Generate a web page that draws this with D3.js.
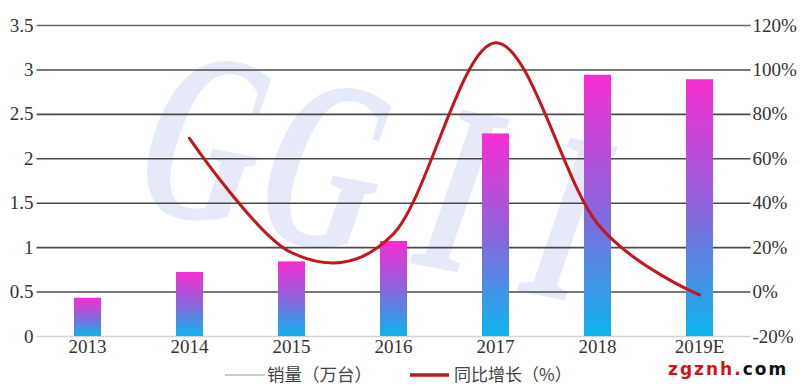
<!DOCTYPE html>
<html><head><meta charset="utf-8">
<script src="https://cdn.jsdelivr.net/npm/d3@7"></script>
<style>html,body{margin:0;padding:0;background:#fff;}svg{display:block;}</style>
</head><body>
<svg id="c" width="800" height="389"></svg>
<script>
const categories = ["2013","2014","2015","2016","2017","2018","2019E"];
const sales = [0.43, 0.72, 0.84, 1.07, 2.28, 2.94, 2.89];
const growth = [null, 69, 17.5, 26, 112, 30.5, -1.5];
const leftTicks = [0,0.5,1,1.5,2,2.5,3,3.5];
const rightTicks = [-20,0,20,40,60,80,100,120];
const legendLabels = ["销量（万台）","同比增长（%）"];
const watermarkLetters = ["G","G","I","I"];

const svg = d3.select("#c");
const x0=36.5, x1=750.5, yTop=25, yBot=336;
const x = d3.scaleBand().domain(categories).range([x0,x1]).paddingInner(0.735).paddingOuter(0.3675);
const yL = d3.scaleLinear().domain([0,3.5]).range([yBot,yTop]);
const yR = d3.scaleLinear().domain([-20,120]).range([yBot,yTop]);
const serif = "'Liberation Serif','DejaVu Serif',serif";

const defs = svg.append("defs");
const g = defs.append("linearGradient").attr("id","bar").attr("x1",0).attr("y1",0).attr("x2",0).attr("y2",1);
g.append("stop").attr("offset","0%").attr("stop-color","#f82ed2");
g.append("stop").attr("offset","50%").attr("stop-color","#8c64dc");
g.append("stop").attr("offset","100%").attr("stop-color","#0cb4ee");

// watermark GGII
const wmPos = [[122,205],[242,232],[404,262],[512,290]];
svg.append("g").selectAll("text").data(watermarkLetters).join("text")
  .text(d=>d)
  .attr("transform",(d,i)=>`translate(${wmPos[i][0]},${wmPos[i][1]}) rotate(11) skewX(-8) scale(0.62,1)`)
  .attr("font-family",serif)
  .attr("font-weight","bold")
  .attr("font-size",245)
  .attr("fill","#e6eaf8");

// gridlines (left axis)
const axL = d3.axisLeft(yL).tickValues(leftTicks).tickSize(-(x1-x0)).tickPadding(3)
  .tickFormat(d=>String(d));
const gL = svg.append("g").attr("transform",`translate(${x0},0)`).call(axL);
gL.select(".domain").remove();
gL.selectAll(".tick line").attr("stroke","#4a4a48").attr("stroke-width",1.6);
gL.selectAll(".tick").filter(d=>d===0).select("line").attr("stroke","#d4d4d4").attr("stroke-width",1.5);
gL.selectAll(".tick").filter(d=>d===3.5).select("line").attr("stroke","#6a6a68");
gL.selectAll(".tick text").attr("font-family",serif).attr("font-size",19).attr("fill","#333").attr("x",-3);

// right axis labels
const axR = d3.axisRight(yR).tickValues(rightTicks).tickSize(0).tickPadding(2).tickFormat(d=>d+"%");
const gR = svg.append("g").attr("transform",`translate(${x1},0)`).call(axR);
gR.select(".domain").remove();
gR.selectAll(".tick text").attr("font-family",serif).attr("font-size",19).attr("fill","#333");

// bars
svg.append("g").selectAll("rect").data(categories).join("rect")
  .attr("x",d=>x(d)).attr("width",x.bandwidth())
  .attr("y",(d,i)=>yL(sales[i])).attr("height",(d,i)=>yBot-yL(sales[i]))
  .attr("fill","url(#bar)");

// x labels
const axX = d3.axisBottom(x).tickSize(0).tickPadding(4);
const gX = svg.append("g").attr("transform",`translate(0,${yBot})`).call(axX);
gX.select(".domain").remove();
gX.selectAll(".tick text").attr("font-family",serif).attr("font-size",19).attr("fill","#333");

// growth line
const pts = categories.map((c,i)=>({c,v:growth[i]})).filter(p=>p.v!==null);
svg.append("path").datum(pts)
  .attr("d",d3.line().x(p=>x(p.c)+x.bandwidth()/2).y(p=>yR(p.v)).curve(d3.curveCardinal.tension(0)))
  .attr("fill","none").attr("stroke","#c3161c").attr("stroke-width",3).attr("stroke-linecap","round");

// legend
const lg = svg.append("g");
lg.append("line").attr("x1",225).attr("x2",265).attr("y1",375).attr("y2",375).attr("stroke","#999").attr("stroke-width",1);
lg.append("text").text(legendLabels[0]).attr("x",267).attr("y",381).attr("font-family","'Noto Sans CJK SC',sans-serif").attr("font-size",17.5).attr("fill","#444");
lg.append("line").attr("x1",410).attr("x2",449).attr("y1",375).attr("y2",375).attr("stroke","#c3161c").attr("stroke-width",3.5);
lg.append("text").text(legendLabels[1]).attr("x",454).attr("y",381).attr("font-family","'Noto Sans CJK SC',sans-serif").attr("font-size",17).attr("fill","#444");

// site watermark
const wm = svg.append("text").attr("x",668).attr("y",375).attr("font-family","'DejaVu Sans',sans-serif").attr("font-weight","bold").attr("font-size",17).attr("letter-spacing",2);
wm.append("tspan").text("zgznh.").attr("fill","#d0121a");
wm.append("tspan").text("com").attr("fill","#111");
</script>
</body></html>
